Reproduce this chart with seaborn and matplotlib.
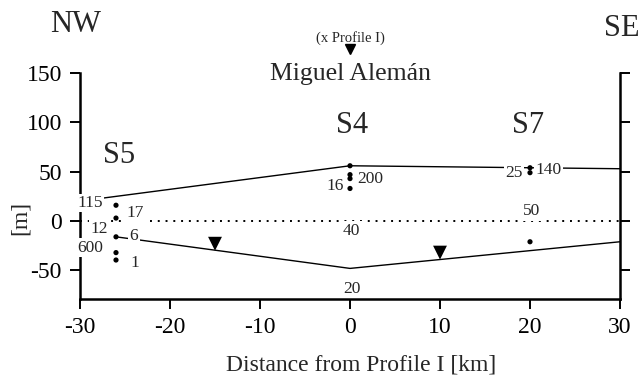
import matplotlib
matplotlib.use("Agg")
import matplotlib.pyplot as plt
import seaborn as sns
import pandas as pd

# ---- data ----
x_ticks = [-30, -20, -10, 0, 10, 20, 30]
y_ticks = [-50, 0, 50, 100, 150]

# sample points (station, distance, depth)
s5_x = -26
s5_y = [16, 3, -16, -32, -39.5]
s4_x = 0
s4_y = [56, 47, 43, 33]
s7_x = 20
s7_y = [54, 49, -21]

# upper and lower boundary lines
upper_x = [-28.5, 0, 20, 30]
upper_y = [22, 56, 54, 53]
lower_x = [-26, 0, 30]
lower_y = [-16, -48, -21]

# triangle markers
tri_x = [-15, 10]
tri_y = [-23, -32]

# small numeric labels (text, x, baseline y)
num_text = ["115", "17", "12", "6", "600", "1", "16", "200", "40", "20", "25", "140", "50"]
num_x = [-28.9, -23.9, -27.9, -24.0, -28.9, -23.9, -1.7, 2.2, 0.2, 0.2, 18.2, 22.1, 20.2]
num_y = [14.2, 4.0, -12.0, -19.0, -31.0, -47.0, 31.0, 38.5, -14.0, -73.0, 44.6, 47.6, 6.0]

# station labels
st_text = ["S5", "S4", "S7"]
st_x = [-25.7, 0.2, 19.8]
st_y = [58.8, 89.0, 89.0]

sns.set_style("ticks")
plt.rcParams['font.family'] = ['Liberation Serif', 'DejaVu Serif']
plt.rcParams['axes.unicode_minus'] = False

fig = plt.figure(figsize=(6.42, 3.85), dpi=100)
ax = fig.add_axes([80 / 642, 1 - 299 / 385, 540 / 642, 226 / 385])

pts = pd.DataFrame({
    "x": [s5_x] * len(s5_y) + [s4_x] * len(s4_y) + [s7_x] * len(s7_y),
    "y": s5_y + s4_y + s7_y,
})
up = pd.DataFrame({"x": upper_x, "y": upper_y})
lo = pd.DataFrame({"x": lower_x, "y": lower_y})
zero = pd.DataFrame({"x": [-30, 30], "y": [0, 0]})
tri = pd.DataFrame({"x": tri_x, "y": tri_y})

sns.lineplot(data=up, x="x", y="y", sort=False, estimator=None, color="black", lw=1.0, ax=ax)
sns.lineplot(data=lo, x="x", y="y", sort=False, estimator=None, color="black", lw=1.0, ax=ax)
sns.lineplot(data=zero, x="x", y="y", sort=False, estimator=None, color="black", lw=1.4,
             dashes=False, ax=ax)
ax.lines[-1].set_linestyle((0, (1, 3)))
sns.scatterplot(data=pts, x="x", y="y", color="black", s=14, edgecolor="none", ax=ax, zorder=4)
sns.scatterplot(data=tri, x="x", y="y", color="black", marker="v", s=100, edgecolor="none",
                ax=ax, zorder=4)

for t, x, y in zip(num_text, num_x, num_y):
    bb = None if t == "20" else dict(facecolor="white", edgecolor="none", pad=1.0)
    ax.text(x, y, t, ha="center", va="baseline", fontsize=12.5, zorder=6, clip_on=False,
            bbox=bb)

for t, x, y in zip(st_text, st_x, st_y):
    ax.text(x, y, t, ha="center", va="baseline", fontsize=22, zorder=6)

ax.text(0, 143, "Miguel Alemán", ha="center", va="baseline", fontsize=18.5, clip_on=False)
ax.text(0, 182, "(x Profile I)", ha="center", va="baseline", fontsize=10.5, clip_on=False)
ax.plot([0], [174], marker="v", color="black", markersize=7, clip_on=False, ls="none")

fig.text(76 / 642, 1 - 32 / 385, "NW", ha="center", va="baseline", fontsize=22)
fig.text(604 / 642, 1 - 36 / 385, "SE", ha="left", va="baseline", fontsize=22)

ax.set_xlim(-30, 30)
ax.set_ylim(-79, 150)
ax.set_xticks(x_ticks)
ax.set_yticks(y_ticks)
ax.tick_params(axis="both", direction="out", length=7, width=1.4, labelsize=17, pad=6,
               colors="black")
ax.tick_params(axis="y", right=True, labelright=False)
sns.despine(ax=ax, top=True, right=False)
for s in ["left", "right", "bottom"]:
    ax.spines[s].set_linewidth(1.8)
    ax.spines[s].set_color("black")

ax.set_xlabel("Distance from Profile I [km]", fontsize=17)
ax.xaxis.set_label_coords(0.52, -0.245)
ax.set_ylabel("[m]", fontsize=17)
ax.yaxis.set_label_coords(-0.091, 0.358)

fig.savefig("out.png", dpi=100)
